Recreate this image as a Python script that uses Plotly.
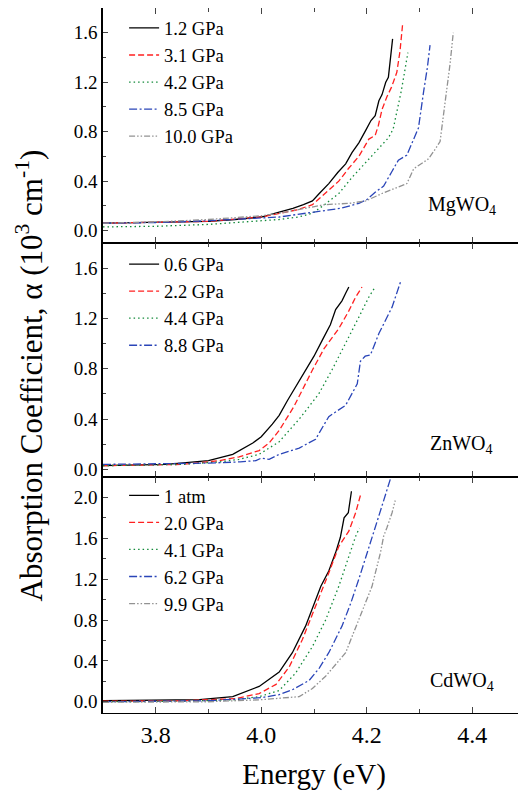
import plotly.graph_objects as go
from plotly.subplots import make_subplots

# ---- MgWO4 (painel de cima) ----
mg_labels = ["1.2 GPa", "3.1 GPa", "4.2 GPa", "8.5 GPa", "10.0 GPa"]
mg_e_1 = [3.70, 3.80, 3.90, 3.95, 4.00, 4.034, 4.06, 4.08, 4.097, 4.11, 4.128, 4.145, 4.160, 4.172, 4.185, 4.198, 4.208, 4.216, 4.223, 4.229, 4.236, 4.241, 4.244, 4.249]
mg_a_1 = [0.06, 0.065, 0.075, 0.09, 0.11, 0.15, 0.18, 0.21, 0.24, 0.30, 0.38, 0.47, 0.54, 0.63, 0.71, 0.81, 0.89, 0.93, 1.05, 1.10, 1.20, 1.24, 1.35, 1.55]
mg_e_2 = [3.70, 3.80, 3.90, 4.00, 4.034, 4.07, 4.097, 4.12, 4.147, 4.165, 4.185, 4.204, 4.216, 4.222, 4.229, 4.238, 4.247, 4.257, 4.263, 4.268]
mg_a_2 = [0.06, 0.065, 0.075, 0.11, 0.14, 0.17, 0.21, 0.30, 0.40, 0.50, 0.60, 0.74, 0.77, 0.85, 0.98, 1.08, 1.16, 1.28, 1.45, 1.67]
mg_e_3 = [3.70, 3.80, 3.90, 4.00, 4.034, 4.07, 4.097, 4.12, 4.147, 4.172, 4.198, 4.22, 4.241, 4.25, 4.257, 4.265, 4.270, 4.278]
mg_a_3 = [0.03, 0.035, 0.05, 0.08, 0.09, 0.11, 0.14, 0.21, 0.30, 0.43, 0.55, 0.66, 0.75, 0.82, 0.95, 1.12, 1.24, 1.44]
mg_e_4 = [3.70, 3.80, 3.90, 4.00, 4.034, 4.10, 4.15, 4.185, 4.20, 4.216, 4.232, 4.248, 4.260, 4.276, 4.289, 4.298, 4.308, 4.315, 4.320]
mg_a_4 = [0.06, 0.065, 0.08, 0.10, 0.11, 0.15, 0.18, 0.22, 0.25, 0.31, 0.36, 0.48, 0.57, 0.61, 0.74, 0.83, 1.13, 1.32, 1.50]
mg_e_5 = [3.70, 3.80, 3.90, 4.00, 4.034, 4.08, 4.12, 4.166, 4.198, 4.229, 4.254, 4.276, 4.289, 4.317, 4.330, 4.339, 4.348, 4.358, 4.364]
mg_a_5 = [0.06, 0.07, 0.09, 0.12, 0.14, 0.18, 0.21, 0.22, 0.24, 0.30, 0.34, 0.38, 0.50, 0.58, 0.66, 0.72, 1.02, 1.35, 1.60]

# ---- ZnWO4 (painel do meio) ----
zn_labels = ["0.6 GPa", "2.2 GPa", "4.4 GPa", "8.8 GPa"]
zn_e_1 = [3.70, 3.82, 3.90, 3.946, 3.984, 4.00, 4.021, 4.034, 4.05, 4.072, 4.087, 4.10, 4.116, 4.131, 4.141, 4.153, 4.160, 4.166]
zn_a_1 = [0.03, 0.04, 0.07, 0.12, 0.21, 0.26, 0.36, 0.43, 0.55, 0.70, 0.80, 0.90, 1.03, 1.15, 1.27, 1.34, 1.40, 1.45]
zn_e_2 = [3.70, 3.85, 3.921, 3.958, 3.996, 4.015, 4.034, 4.062, 4.097, 4.119, 4.147, 4.166, 4.179, 4.191]
zn_a_2 = [0.03, 0.04, 0.07, 0.10, 0.15, 0.21, 0.31, 0.50, 0.79, 0.96, 1.12, 1.26, 1.37, 1.45]
zn_e_3 = [3.70, 3.85, 3.921, 3.958, 3.996, 4.034, 4.072, 4.109, 4.134, 4.160, 4.185, 4.204, 4.216]
zn_a_3 = [0.03, 0.04, 0.06, 0.08, 0.12, 0.22, 0.40, 0.60, 0.79, 1.00, 1.21, 1.37, 1.45]
zn_e_4 = [3.70, 3.80, 3.90, 3.96, 3.99, 4.00, 4.015, 4.034, 4.072, 4.103, 4.128, 4.160, 4.182, 4.188, 4.197, 4.207, 4.213, 4.223, 4.248, 4.264]
zn_a_4 = [0.04, 0.045, 0.05, 0.06, 0.07, 0.09, 0.08, 0.12, 0.17, 0.24, 0.42, 0.51, 0.68, 0.86, 0.90, 0.91, 0.97, 1.08, 1.29, 1.49]

# ---- CdWO4 (painel de baixo) ----
cd_labels = ["1 atm", "2.0 GPa", "4.1 GPa", "6.2 GPa", "9.9 GPa"]
cd_e_1 = [3.70, 3.80, 3.883, 3.946, 3.996, 4.034, 4.059, 4.084, 4.100, 4.113, 4.128, 4.141, 4.150, 4.157, 4.165, 4.171]
cd_a_1 = [0.01, 0.015, 0.02, 0.05, 0.15, 0.29, 0.48, 0.74, 0.95, 1.13, 1.28, 1.46, 1.61, 1.80, 1.85, 2.06]
cd_e_2 = [3.70, 3.85, 3.95, 3.996, 4.028, 4.053, 4.078, 4.103, 4.128, 4.147, 4.166, 4.179, 4.188]
cd_a_2 = [0.005, 0.01, 0.03, 0.08, 0.17, 0.34, 0.61, 0.93, 1.26, 1.52, 1.67, 1.85, 2.02]
cd_e_3 = [3.70, 3.85, 3.95, 3.996, 4.034, 4.065, 4.097, 4.122, 4.147, 4.166, 4.179, 4.186]
cd_a_3 = [0.0, 0.005, 0.02, 0.05, 0.11, 0.28, 0.54, 0.80, 1.13, 1.43, 1.62, 1.70]
cd_e_4 = [3.70, 3.90, 4.00, 4.034, 4.06, 4.091, 4.11, 4.128, 4.153, 4.17, 4.185, 4.204, 4.223, 4.246]
cd_a_4 = [0.0, 0.01, 0.04, 0.07, 0.12, 0.21, 0.33, 0.48, 0.74, 0.97, 1.20, 1.52, 1.82, 2.20]
cd_e_5 = [3.70, 3.90, 4.00, 4.072, 4.097, 4.122, 4.160, 4.185, 4.210, 4.226, 4.232, 4.238, 4.248, 4.254]
cd_a_5 = [-0.005, 0.0, 0.02, 0.05, 0.13, 0.25, 0.48, 0.80, 1.13, 1.46, 1.62, 1.70, 1.85, 1.97]

# estilos das linhas (cor, tracejado) na ordem das series
cores = ["#000000", "#ff2020", "#138a3a", "#2a45b8", "#929292"]
tracos = ["solid", "6px,3px", "1.5px,3px", "8px,2.5px,2px,2.5px", "6px,2px,1.5px,2px,1.5px,2px"]

FONTE = "Liberation Serif"

fig = make_subplots(rows=3, cols=1, shared_xaxes=True, vertical_spacing=0)

paineis = [
    (1, "legend", mg_labels, [(mg_e_1, mg_a_1), (mg_e_2, mg_a_2), (mg_e_3, mg_a_3), (mg_e_4, mg_a_4), (mg_e_5, mg_a_5)]),
    (2, "legend2", zn_labels, [(zn_e_1, zn_a_1), (zn_e_2, zn_a_2), (zn_e_3, zn_a_3), (zn_e_4, zn_a_4)]),
    (3, "legend3", cd_labels, [(cd_e_1, cd_a_1), (cd_e_2, cd_a_2), (cd_e_3, cd_a_3), (cd_e_4, cd_a_4), (cd_e_5, cd_a_5)]),
]

for linha, leg, nomes, series in paineis:
    for i, (e, a) in enumerate(series):
        fig.add_trace(go.Scatter(x=e, y=a, mode="lines", name=nomes[i], legend=leg,
                                 line=dict(color=cores[i], dash=tracos[i], width=1.3)),
                      row=linha, col=1)

# eixos
for linha in [1, 2, 3]:
    fig.update_xaxes(range=[3.7, 4.5], dtick=0.2, tickformat=".1f", ticks="inside", ticklen=6,
                     tickwidth=1.3, mirror="ticks", showline=True, linecolor="black", linewidth=1.1,
                     showgrid=False, zeroline=False, minor=dict(dtick=0.1, ticks="inside", ticklen=3.5, tickwidth=1),
                     tickfont=dict(family=FONTE, size=24, color="black"),
                     showticklabels=(linha == 3), row=linha, col=1)
    fig.update_yaxes(dtick=0.4, tickformat=".1f", ticks="inside", ticklen=5, tickwidth=1.3,
                     mirror="ticks", showline=True, linecolor="black", linewidth=1.5,
                     showgrid=False, zeroline=False, minor=dict(dtick=0.2, ticks="inside", ticklen=3, tickwidth=1),
                     tickfont=dict(family=FONTE, size=19, color="black"), row=linha, col=1)

fig.update_yaxes(range=[-0.1, 1.8], tick0=0, domain=[0.6667, 1.0], row=1, col=1)
fig.update_yaxes(range=[-0.06, 1.8], tick0=0, domain=[0.3348, 0.6667], row=2, col=1)
fig.update_yaxes(range=[-0.11, 2.2], tick0=0, domain=[0.0, 0.3348], row=3, col=1)

fig.update_xaxes(title=dict(text="Energy (eV)", font=dict(family=FONTE, size=29, color="black"), standoff=18),
                 row=3, col=1)

# nomes dos compostos
compostos = ["MgWO<sub>4</sub>", "ZnWO<sub>4</sub>", "CdWO<sub>4</sub>"]
for i, nome in enumerate(compostos):
    fig.add_annotation(text=nome, x=4.38, y=0.2, xref=f"x{i + 1}" if i else "x", yref=f"y{i + 1}" if i else "y",
                       showarrow=False, font=dict(family=FONTE, size=20, color="black"))

# titulo do eixo y (um so para os tres paineis)
fig.add_annotation(text="Absorption Coefficient, \u03b1 (10<sup>3</sup> cm<sup>-1</sup>)", textangle=-90,
                   x=-0.175, y=0.479, xref="paper", yref="paper", xanchor="center", yanchor="middle",
                   showarrow=False, font=dict(family=FONTE, size=31, color="black"))

legenda = dict(bgcolor="rgba(0,0,0,0)", font=dict(family=FONTE, size=18.5, color="black"),
               x=0.05, xanchor="left", yanchor="top", tracegroupgap=0, itemwidth=30)

# a pagina html tem margem de 8px no body, por isso a figura e 8px menor
fig.update_layout(
    legend=dict(legenda, y=0.998),
    legend2=dict(legenda, y=0.663),
    legend3=dict(legenda, y=0.335),
    width=518, height=783,
    margin=dict(l=95, r=1, t=0, b=78),
    plot_bgcolor="white", paper_bgcolor="white",
    font=dict(family=FONTE, color="black"),
)

fig.write_html("out.html")
